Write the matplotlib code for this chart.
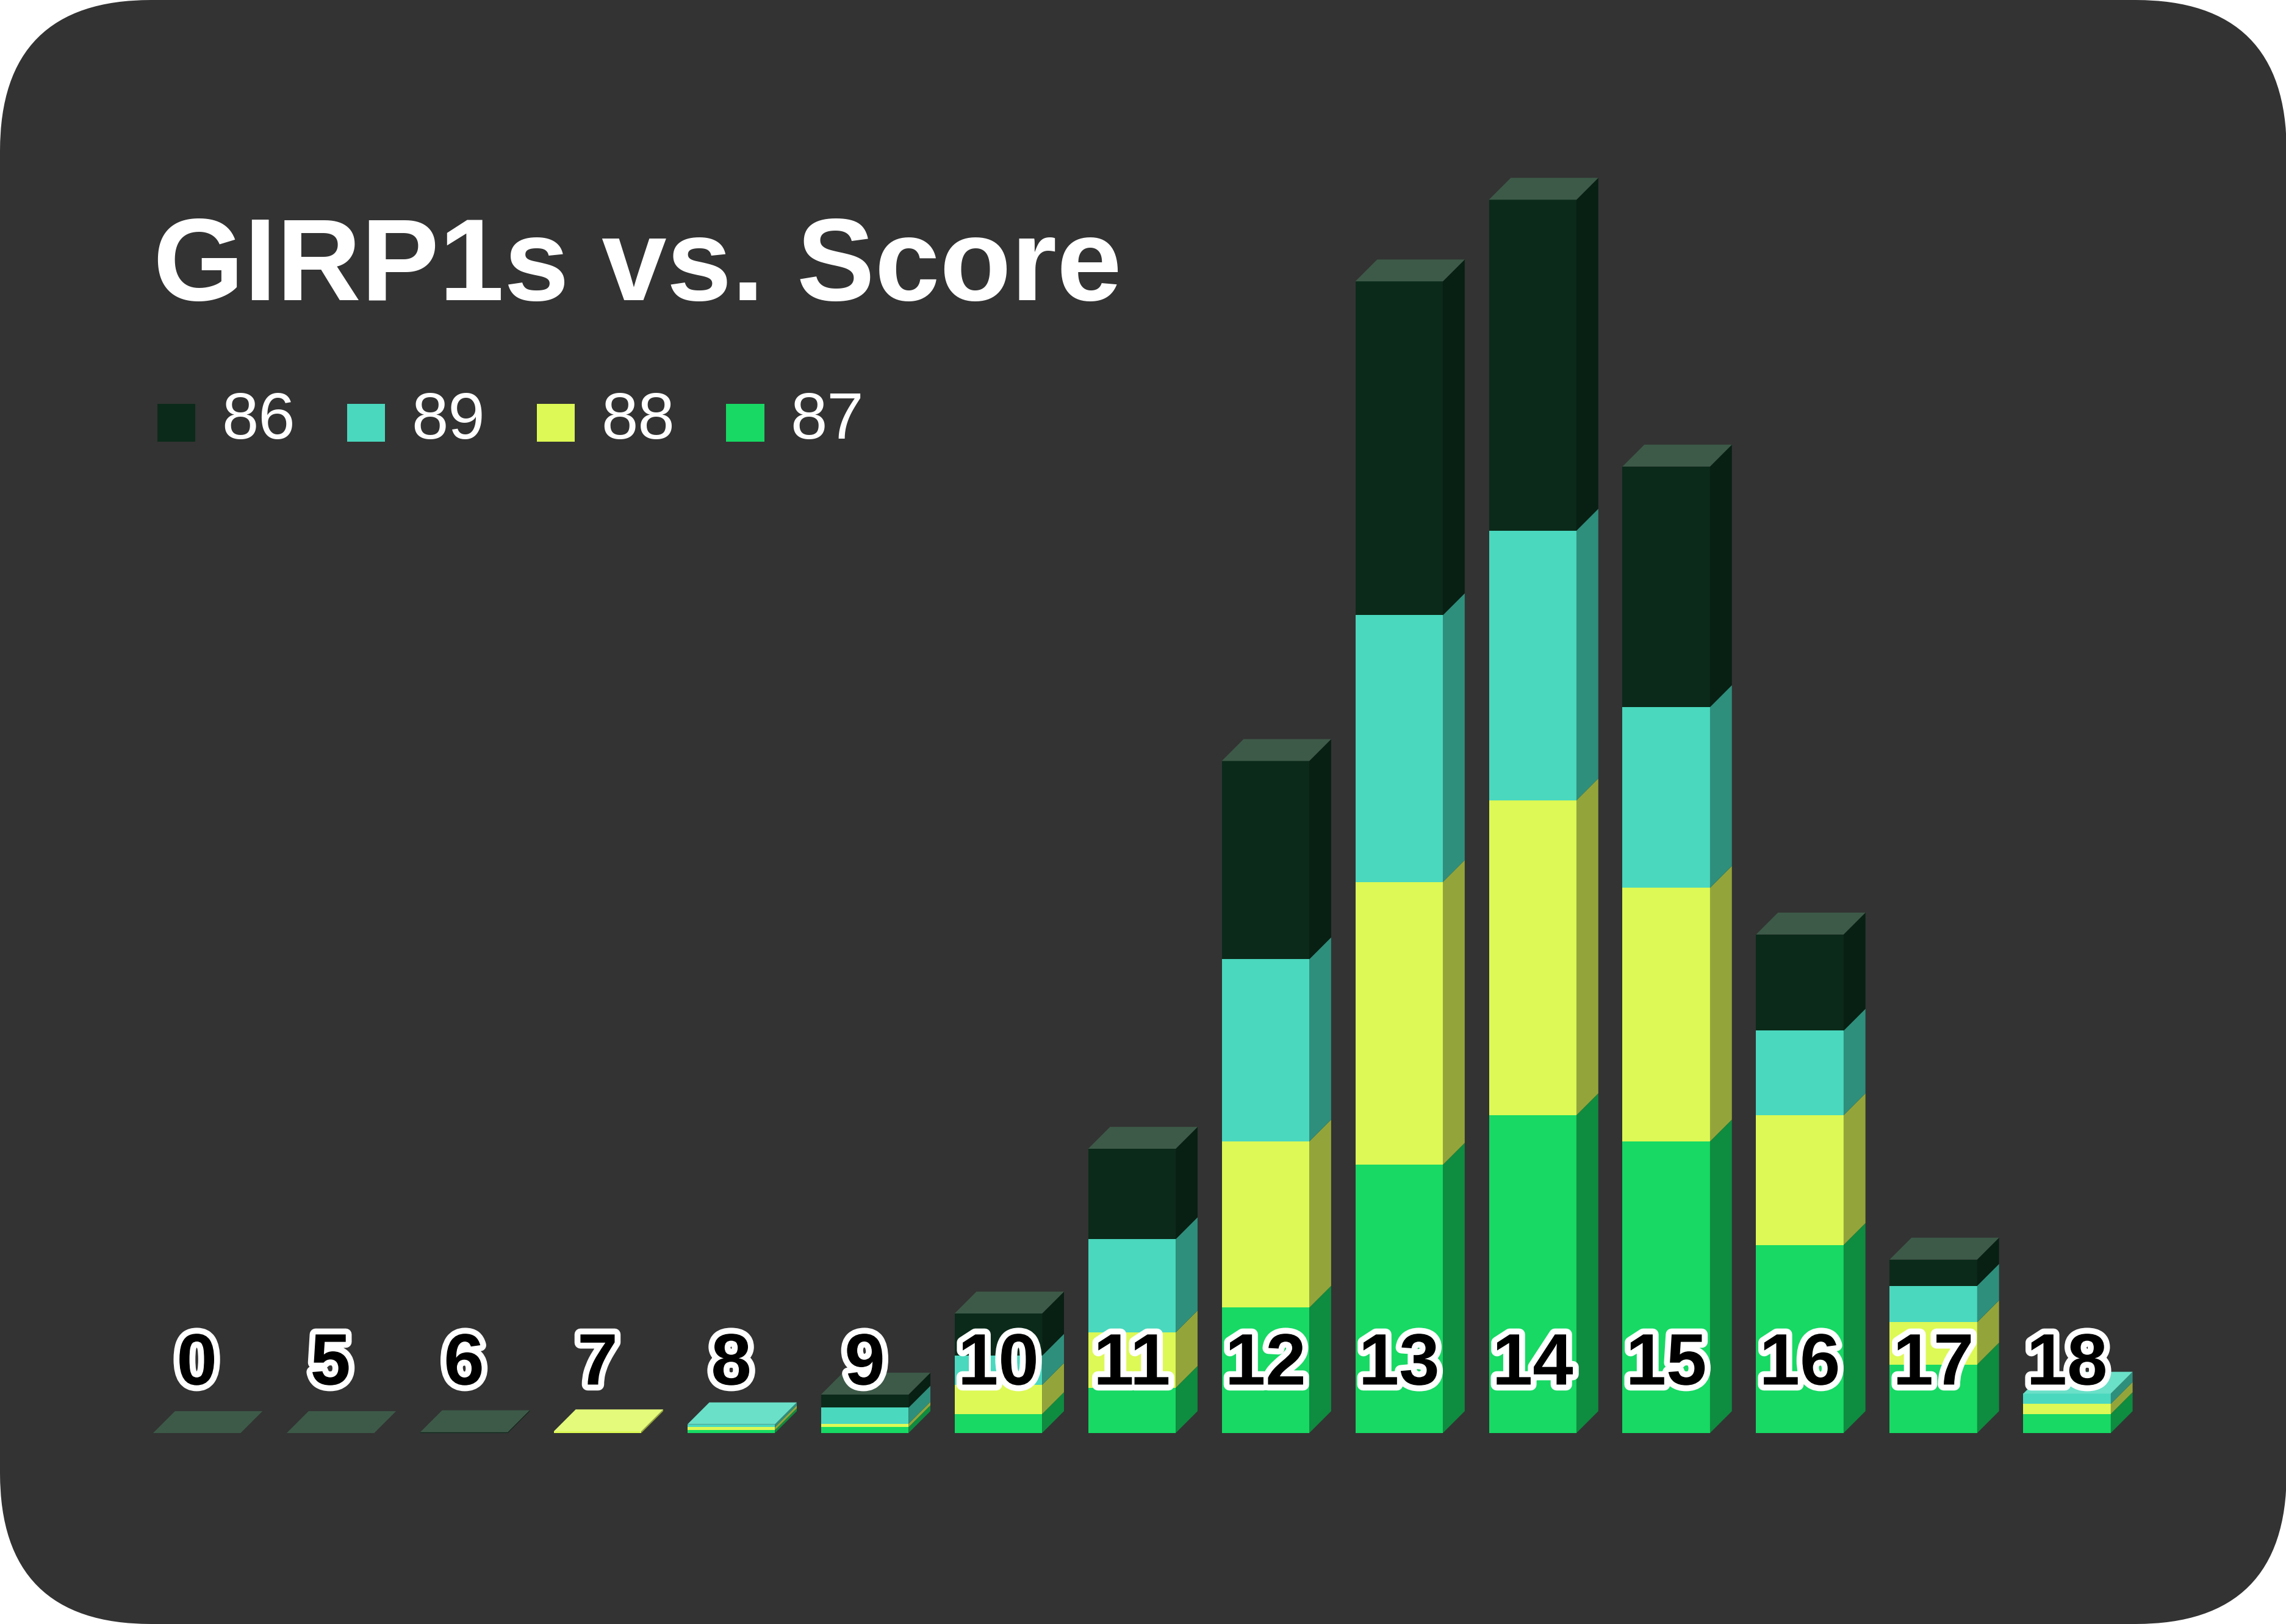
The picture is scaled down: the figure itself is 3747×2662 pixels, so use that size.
import matplotlib
matplotlib.use("Agg")
import matplotlib.pyplot as plt
import matplotlib.patheffects as pe
from matplotlib.patches import Polygon, FancyBboxPatch, Rectangle
import numpy as np

categories = ["0", "5", "6", "7", "8", "9", "10", "11", "12", "13", "14", "15", "16", "17", "18"]
s87 = [0, 0, 0, 0, 2, 4, 13, 31, 86, 184, 218, 200, 129, 47, 13]
s88 = [0, 0, 0, 1.2, 2, 2.4, 20, 38, 114, 194, 216, 174, 89, 29, 7]
s89 = [0, 0, 0, 0, 2, 11, 20, 64, 125, 183, 185, 124, 58, 25, 7]
s86 = [0, 0, 0.6, 0, 0, 9, 29, 62, 136, 229, 227, 165, 66, 18, 0]
series = [("87", s87), ("88", s88), ("89", s89), ("86", s86)]
legend_order = ["86", "89", "88", "87"]

front = {"86": "#0b2a1a", "89": "#4ad8be", "88": "#dcf955", "87": "#17d964"}
side = {"86": "#082014", "89": "#2e8f7c", "88": "#93a53a", "87": "#0e8c40"}
top = {"86": "#3d5a48", "89": "#6ae0c8", "88": "#e3fa7a", "87": "#45e083"}

W, H = 1568, 1114
fig = plt.figure(figsize=(37.48, 26.62), dpi=100)
fig.patch.set_facecolor("white")
bg = FancyBboxPatch((0, 0), 1, 1, boxstyle="round,pad=0,rounding_size=0.066",
                    transform=fig.transFigure, facecolor="#333333", edgecolor="none",
                    mutation_aspect=W / H, zorder=-10)
fig.patches.append(bg)
ax = fig.add_axes([0, 0, 1, 1])
ax.set_zorder(5)
ax.set_facecolor("none")
ax.axis("off")
step = 91.6
ax.set_xlim(-135 / step, (W - 135) / step)
ax.set_ylim(-(H - 983), 983)

w = 60 / step
dx = 15 / step
dy = 15
x = np.arange(len(categories))
for i in x:
    base = 0.0
    last = "86"
    for name, vals in series:
        v = vals[i]
        if v <= 0:
            continue
        xl, xr = i - w / 2, i + w / 2
        ax.add_patch(Rectangle((xl, base), w, v, facecolor=front[name], edgecolor="none", zorder=2))
        ax.add_patch(Polygon([(xr, base), (xr + dx, base + dy), (xr + dx, base + v + dy), (xr, base + v)],
                             closed=True, facecolor=side[name], edgecolor="none", zorder=2))
        base += v
        last = name
    xl, xr = i - w / 2, i + w / 2
    ax.add_patch(Polygon([(xl, base), (xr, base), (xr + dx, base + dy), (xl + dx, base + dy)],
                         closed=True, facecolor=top[last], edgecolor="none", zorder=3))
    ax.text(i, 46, categories[i], ha="center", va="center", fontsize=86, fontweight="bold",
            family=["Liberation Sans", "DejaVu Sans"], color="black", zorder=5,
            path_effects=[pe.withStroke(linewidth=14, foreground="white")])

fig.text(105 / W, 1 - 185 / H, "GIRP1s vs. Score", ha="left", va="center", fontsize=138,
         fontweight="bold", color="white", family=["Liberation Sans", "DejaVu Sans"], zorder=6)
lx = 108
for name in legend_order:
    fig.patches.append(Rectangle((lx / W, 1 - 303 / H), 26 / W, 26 / H, transform=fig.transFigure,
                                 facecolor=front[name], edgecolor="none", zorder=6))
    fig.text((lx + 44) / W, 1 - 289 / H, name, ha="left", va="center", fontsize=78,
             color="white", family=["Liberation Sans", "DejaVu Sans"], zorder=6)
    lx += 130

fig.savefig("out.png", dpi=100, facecolor="white")
